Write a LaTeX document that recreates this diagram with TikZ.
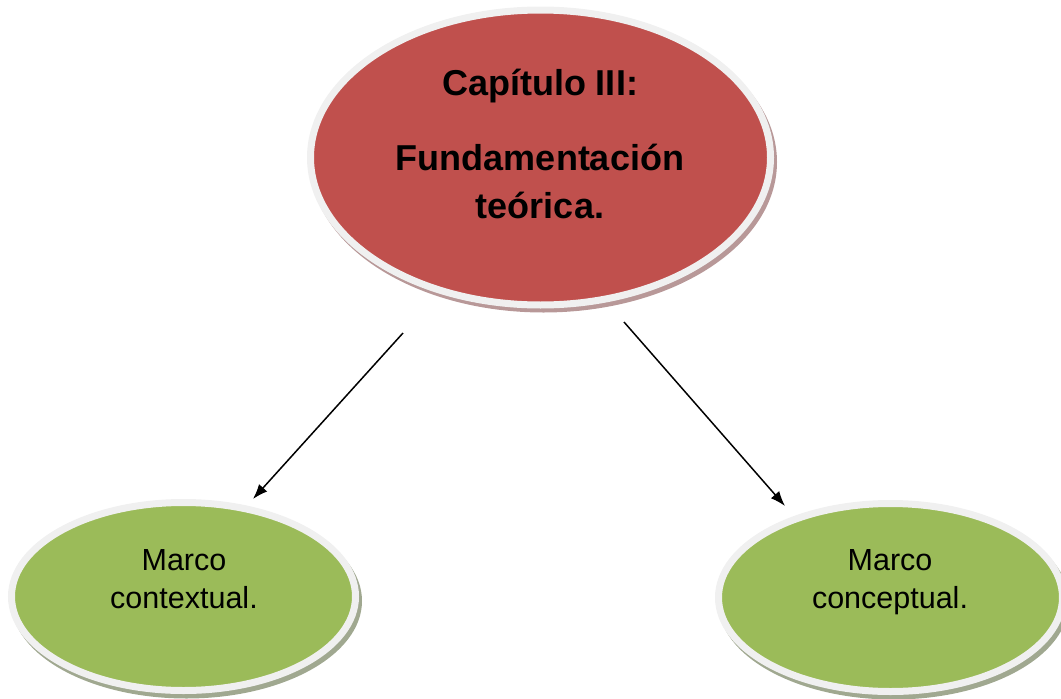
\documentclass[tikz,border=0pt]{standalone}
\usepackage{fontspec}
\setmainfont{Liberation Sans}
\usetikzlibrary{arrows.meta,shapes.geometric}
\definecolor{topred}{HTML}{C0504D}
\definecolor{leafgreen}{HTML}{9BBB59}
\definecolor{ringgray}{HTML}{F0F0F0}
\definecolor{redshadow}{HTML}{B89898}
\definecolor{greenshadow}{HTML}{A0A890}
\tikzset{
  bubble/.style={ellipse, inner sep=0pt, draw=ringgray, line width=7pt},
  topbubble/.style={bubble, fill=topred, minimum width=460pt, minimum height=295pt},
  leafbubble/.style={bubble, fill=leafgreen, minimum width=344pt, minimum height=188pt},
  titletext/.style={anchor=base, font=\fontsize{36}{44}\selectfont\bfseries, text=black, inner sep=0pt},
  leaftext/.style={anchor=base, font=\fontsize{30.5}{36}\selectfont, text=black, inner sep=0pt},
  arrowline/.style={line width=1.5pt, -{Latex[length=15pt,width=11pt]}}
}
\begin{document}
\begin{tikzpicture}[x=1pt,y=-1pt]
\useasboundingbox (0,0) rectangle (1061,699);
% shadows
\fill[redshadow] (543.5,162) ellipse [x radius=233.5pt, y radius=150.5pt];
\fill[greenshadow] (186.5,601) ellipse [x radius=175.5pt, y radius=97.5pt];
\fill[greenshadow] (893.5,602) ellipse [x radius=175.5pt, y radius=97.5pt];
% bubbles
\node[topbubble] (top) at (540.5,157.5) {};
\node[leafbubble] (left) at (183.5,596.5) {};
\node[leafbubble] (right) at (890.5,597.5) {};
% texts
\node[titletext] (t1) at (540,95) {Capítulo III:};
\node[titletext] (t2) at (540,170) {Fundamentación};
\node[titletext] (t3) at (540,218) {teórica.};
\node[leaftext] (l1) at (184,570) {Marco};
\node[leaftext] (l2) at (184,608) {contextual.};
\node[leaftext] (r1) at (890,570) {Marco};
\node[leaftext] (r2) at (890,608) {conceptual.};
% connectors
\coordinate (a1s) at (403,333);
\coordinate (a1e) at (253,499);
\coordinate (a2s) at (624,322);
\coordinate (a2e) at (785,506);
\draw[arrowline] (a1s) -- (a1e);
\draw[arrowline] (a2s) -- (a2e);
\end{tikzpicture}
\end{document}
